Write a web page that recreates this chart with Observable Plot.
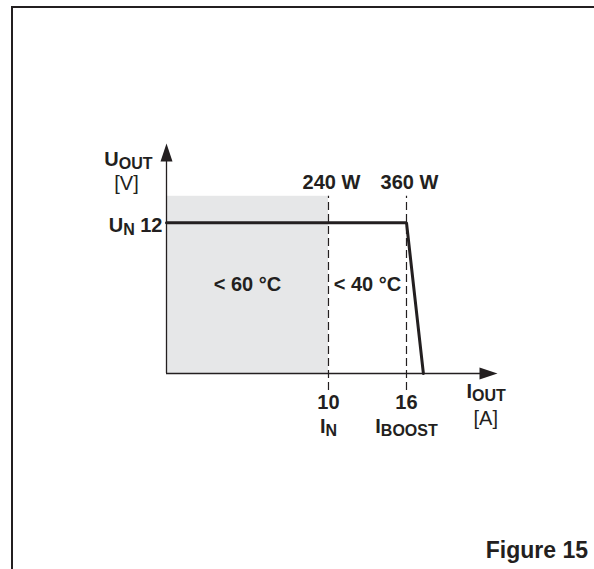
<!DOCTYPE html>
<html>
<head>
<meta charset="utf-8">
<script src="https://cdn.jsdelivr.net/npm/d3@7"></script>
<script src="https://cdn.jsdelivr.net/npm/@observablehq/plot@0.6"></script>
<style>
  html, body { margin: 0; padding: 0; background: #fff; }
  #page { position: relative; width: 594px; height: 569px; overflow: hidden; font-family: "Liberation Sans", Arial, sans-serif; }
  #frame { position: absolute; left: 11px; top: 6px; right: -4px; bottom: -4px; border-top: 2px solid #231f20; border-left: 2px solid #231f20; pointer-events: none; }
  #chart svg { display: block; }
  #caption { height: 39px; box-sizing: border-box; padding: 9px 6px 0 0; text-align: right; font-size: 23px; line-height: 23px; font-weight: bold; color: #231f20; }
</style>
</head>
<body>
<div id="page">
  <div id="chart"></div>
  <div id="caption">Figure 15</div>
  <div id="frame"></div>
</div>
<script>
// ---- data (schematic derating curve) ----
const xOrigin = -2.46;                         // unlabeled origin of the schematic current axis
const xAxisEnd = 23;
const yAxisEnd = 18.3;
const xTicks = [10, 16];                       // I_OUT [A]
const xTickLabels = ["10", "16"];
const xTickSubLabels = ["I_{N}", "I_{BOOST}"];
const powerLabels = ["240 W", "360 W"];
const zoneStarts = [xOrigin, 10];
const zoneEnds = [10, 16];
const zoneLabels = ["< 60 °C", "< 40 °C"];
const shadedZones = [0];                       // index of shaded zone(s)
const curveI = [xOrigin, 16, 17.3];            // output current
const curveU = [12, 12, 0];                    // output voltage
const nominalU = 12;
const nominalULabel = "U_{N} 12";
const yAxisLabel = "U_{OUT}";
const yAxisUnit = "[V]";
const xAxisLabel = "I_{OUT}";
const xAxisUnit = "[A]";
const regionTop = 14.1;                        // top of shading / guide lines
const guideBottom = -1.35;                     // guides run slightly below axis

// ---- build tables ----
const curve = curveI.map((x, i) => ({x, y: curveU[i]}));
const ticks = xTicks.map((x, i) => ({x, label: xTickLabels[i], sub: xTickSubLabels[i], power: powerLabels[i]}));
const zones = zoneStarts.map((s, i) => ({x1: s, x2: zoneEnds[i], label: zoneLabels[i], shaded: shadedZones.includes(i)}));

const INK = "#231f20";
const FONT = "Liberation Sans, Arial, sans-serif";
const MAIN = 20, SUB = 16, SHIFT = 3;

// arrowhead symbol: tip at the dot position, pointing up
const arrowHead = {
  draw(ctx) {
    ctx.moveTo(0, 0);
    ctx.lineTo(6, 18);
    ctx.lineTo(-6, 18);
    ctx.closePath();
  }
};

const txt = (data, opts) => Plot.text(data, {fill: INK, fontFamily: FONT, fontSize: MAIN, fontWeight: "bold", ...opts});

const chart = Plot.plot({
  width: 594,
  height: 530,
  margin: 0,
  style: {fontFamily: FONT, fontSize: "20px", background: "transparent", color: INK},
  x: {domain: [xOrigin, xAxisEnd], range: [166, 497], axis: null},
  y: {domain: [0, yAxisEnd], range: [373, 143], axis: null},
  marks: [
    Plot.rectY(zones.filter(d => d.shaded), {x1: "x1", x2: "x2", y1: 0, y2: regionTop, fill: "#e6e7e8"}),
    Plot.ruleX(ticks, {x: "x", y1: guideBottom, y2: regionTop, stroke: INK, strokeWidth: 1.2, strokeDasharray: "8,4"}),
    // axes with arrowheads
    Plot.ruleY([0], {x1: xOrigin, x2: xAxisEnd - 0.5, stroke: INK, strokeWidth: 1.3}),
    Plot.ruleX([xOrigin], {y1: 0, y2: yAxisEnd - 0.5, stroke: INK, strokeWidth: 1.3}),
    Plot.dot([{x: xAxisEnd, y: 0}], {x: "x", y: "y", symbol: arrowHead, rotate: 90, fill: INK, stroke: "none", r: 6}),
    Plot.dot([{x: xOrigin, y: yAxisEnd}], {x: "x", y: "y", symbol: arrowHead, rotate: 0, fill: INK, stroke: "none", r: 6}),
    // curve
    Plot.line(curve, {x: "x", y: "y", stroke: INK, strokeWidth: 3, strokeLinejoin: "miter"}),
    // labels
    txt(ticks, {x: "x", y: regionTop, text: "power", dy: -7, dx: 3, lineAnchor: "bottom"}),
    txt(zones, {x: d => (d.x1 + d.x2) / 2, y: regionTop / 2, text: "label", lineAnchor: "middle"}),
    txt(ticks, {x: "x", y: 0, text: "label", dy: 35, lineAnchor: "bottom"}),
    txt(ticks, {x: "x", y: 0, text: "sub", dy: 59, lineAnchor: "bottom"}),
    txt([nominalU], {x: xOrigin, y: d => d, text: () => nominalULabel, dx: -4, dy: 9, textAnchor: "end", lineAnchor: "bottom"}),
    txt([0], {x: xOrigin, y: yAxisEnd, text: () => yAxisLabel, dx: -14, dy: 22, textAnchor: "end", lineAnchor: "bottom"}),
    txt([0], {x: xOrigin, y: yAxisEnd, text: () => yAxisUnit, dx: -40, dy: 46, fontWeight: "normal", lineAnchor: "bottom"}),
    txt([0], {x: xAxisEnd, y: 0, text: () => xAxisLabel, dx: -31, dy: 24, textAnchor: "start", lineAnchor: "bottom"}),
    txt([0], {x: xAxisEnd, y: 0, text: () => xAxisUnit, dx: -24, dy: 51, textAnchor: "start", fontWeight: "normal", lineAnchor: "bottom"})
  ]
});

// turn "X_{sub}" into subscript tspans
d3.select(chart).selectAll("text").each(function () {
  const s = this.textContent;
  if (!s.includes("_{")) return;
  const parts = s.split(/(_\{[^}]*\})/).filter(p => p.length);
  this.textContent = "";
  let shifted = false;
  for (const p of parts) {
    const ts = document.createElementNS("http://www.w3.org/2000/svg", "tspan");
    if (p.startsWith("_{")) {
      ts.textContent = p.slice(2, -1);
      ts.setAttribute("font-size", SUB);
      ts.setAttribute("dy", SHIFT);
      shifted = true;
    } else {
      ts.textContent = p;
      if (shifted) { ts.setAttribute("dy", -SHIFT); shifted = false; }
    }
    this.appendChild(ts);
  }
});

document.getElementById("chart").appendChild(chart);
</script>
</body>
</html>
